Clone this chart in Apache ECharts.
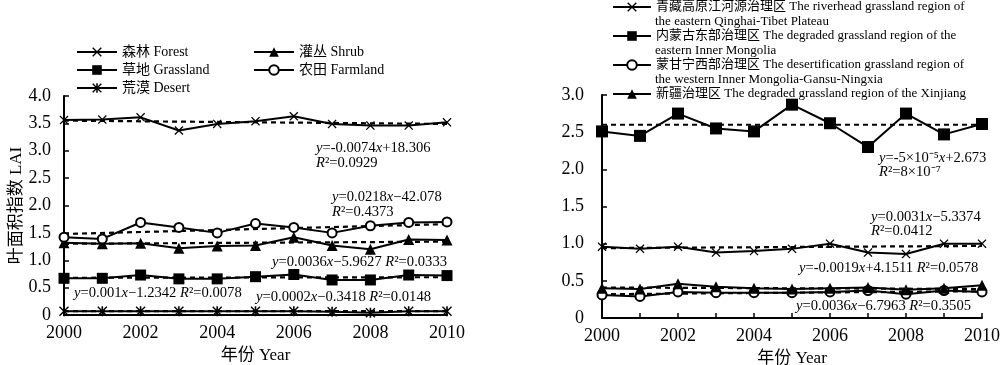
<!DOCTYPE html>
<html><head><meta charset="utf-8">
<script src="https://cdn.jsdelivr.net/npm/echarts@6/dist/echarts.min.js"></script>
<style>html,body{margin:0;padding:0;background:#fff}#c{width:1000px;height:365px}</style>
</head><body><div id="c"></div>
<script>
// ---- data ----
const years = [2000,2001,2002,2003,2004,2005,2006,2007,2008,2009,2010];
const trendYears = [2000, 2010];
// left panel: land-cover types
const forest    = [3.56,3.57,3.61,3.37,3.49,3.54,3.63,3.49,3.46,3.46,3.52];
const shrub     = [1.32,1.30,1.31,1.22,1.26,1.27,1.42,1.27,1.20,1.38,1.37];
const grassland = [0.67,0.67,0.73,0.66,0.66,0.70,0.74,0.64,0.64,0.73,0.72];
const farmland  = [1.42,1.39,1.69,1.60,1.50,1.67,1.60,1.50,1.63,1.69,1.70];
const desert    = [0.07,0.07,0.07,0.07,0.07,0.07,0.07,0.06,0.04,0.07,0.07];
const forestTrend = [3.55,3.49];
const shrubTrend = [1.30,1.34];
const grassTrend = [0.68,0.69];
const farmTrend = [1.48,1.66];
const desertTrend = [0.07,0.07];
// right panel: treatment regions
const qinghai   = [0.96,0.93,0.96,0.88,0.90,0.93,1.00,0.88,0.86,1.00,1.00];
const imEast    = [2.51,2.45,2.75,2.55,2.51,2.87,2.62,2.30,2.75,2.47,2.61];
const imWest    = [0.31,0.29,0.35,0.34,0.34,0.34,0.35,0.37,0.32,0.37,0.35];
const xinjiang  = [0.40,0.39,0.46,0.42,0.40,0.39,0.40,0.41,0.38,0.40,0.44];
const qinghaiTrend = [0.94,0.97];
const imEastTrend = [2.60,2.60];
const imWestTrend = [0.32,0.36];
const xinjiangTrend = [0.41,0.39];
const xTicks = [2000,2002,2004,2006,2008,2010];
const leftYTicks = ['0','0.5','1.0','1.5','2.0','2.5','3.0','3.5','4.0'];
const rightYTicks = ['0','0.5','1.0','1.5','2.0','2.5','3.0'];

const leftNames = ['森林 Forest','灌丛 Shrub','草地 Grassland','农田 Farmland','荒漠 Desert'];
const rightNames = ['青藏高原江河源治理区 The riverhead grassland region of',
  '内蒙古东部治理区 The degraded grassland region of the',
  '蒙甘宁西部治理区 The desertification grassland region of',
  '新疆治理区 The degraded grassland region of the Xinjiang'];
const rightNames2 = ['the eastern Qinghai-Tibet Plateau','eastern Inner Mongolia','the western Inner Mongolia-Gansu-Ningxia'];

// ---- styling ----
const FONT = '"Liberation Serif","Noto Sans CJK SC",serif';
const X_SYM = 'path://M0,1 L1,0 L5,4 L9,0 L10,1 L6,5 L10,9 L9,10 L5,6 L1,10 L0,9 L4,5 Z';
const AST_SYM = 'path://M0,1 L1,0 L5,4 L9,0 L10,1 L6,5 L10,9 L9,10 L5,6 L1,10 L0,9 L4,5 Z M4.2,0 L5.8,0 L5.8,10 L4.2,10 Z';
const pair = (xs, vs) => xs.map((x, i) => [x, vs[i]]);

function dataSeries(name, vals, sym, size, idx) {
  const s = {
    name, type: 'line', xAxisIndex: idx, yAxisIndex: idx,
    data: pair(years, vals), symbol: sym, symbolSize: size,
    lineStyle: { color: '#000', width: 2 },
    itemStyle: { color: '#000', borderColor: '#000', borderWidth: 0 },
    z: 5, animation: false
  };
  if (sym === 'emptyCircle') {
    s.itemStyle = { color: '#000', borderColor: '#000', borderWidth: 2 };
  }
  return s;
}
function trendSeries(vals, idx) {
  return {
    type: 'line', xAxisIndex: idx, yAxisIndex: idx,
    data: pair(trendYears, vals), symbol: 'none', silent: true,
    lineStyle: { color: '#000', width: 2.2, type: [5, 4] },
    z: 3, animation: false
  };
}
function xAxis(idx) {
  return {
    type: 'value', gridIndex: idx, min: 2000, max: 2010, interval: 1,
    name: '年份 Year', nameLocation: 'middle', nameGap: 31,
    nameTextStyle: { fontFamily: FONT, fontSize: 17, color: '#000' },
    axisLine: { lineStyle: { color: '#000', width: 2 } },
    axisTick: { inside: true, length: 5, lineStyle: { color: '#000', width: 1.5 } },
    axisLabel: { fontFamily: FONT, fontSize: 18, color: '#000', margin: 9,
      formatter: v => xTicks.indexOf(v) >= 0 ? String(v) : '' },
    splitLine: { show: false }
  };
}
function yAxis(idx, max, labels, withName, margin) {
  const a = {
    type: 'value', gridIndex: idx, min: 0, max, interval: 0.5,
    axisLine: { show: true, lineStyle: { color: '#000', width: 2 } },
    axisTick: { show: true, inside: true, length: 5, lineStyle: { color: '#000', width: 1.5 } },
    axisLabel: { fontFamily: FONT, fontSize: 18, color: '#000', margin,
      formatter: v => labels[Math.round(v / 0.5)] },
    splitLine: { show: false }
  };
  if (withName) {
    a.name = '叶面积指数 LAI'; a.nameLocation = 'middle'; a.nameGap = 37;
    a.nameTextStyle = { fontFamily: FONT, fontSize: 17, color: '#000' };
  }
  return a;
}
const AF = 14.6;
const rich = {
  i: { fontFamily: FONT, fontSize: AF, fontStyle: 'italic', color: '#000' },
  n: { fontFamily: FONT, fontSize: AF, color: '#000' }
};
function ann(x, y, text) {
  return { type: 'text', x, y, z: 10, silent: true,
    style: { text, rich, fontFamily: FONT, fontSize: AF, fill: '#000', verticalAlign: 'middle', align: 'left' } };
}
function plain(x, y, text, size) {
  return { type: 'text', x, y, z: 10, silent: true,
    style: { text, fontFamily: FONT, fontSize: size, fill: '#000', verticalAlign: 'middle', align: 'left' } };
}

const legendText = size => ({ fontFamily: FONT, fontSize: size, color: '#000', lineHeight: 14 });

const option = {
  backgroundColor: '#fff',
  animation: false,
  grid: [
    { left: 64, top: 96, width: 383, height: 219, outerBoundsMode: 'none', containLabel: false },
    { left: 602, top: 95, width: 380, height: 223, outerBoundsMode: 'none', containLabel: false }
  ],
  xAxis: [xAxis(0), xAxis(1)],
  yAxis: [yAxis(0, 4, leftYTicks, true, 13), yAxis(1, 3, rightYTicks, false, 18)],
  legend: [
    { data: [leftNames[0], leftNames[2], leftNames[4]], orient: 'vertical', left: 76, top: 45,
      itemWidth: 40, itemHeight: 12, itemGap: 4, textStyle: legendText(14), padding: 0 },
    { data: [leftNames[1], leftNames[3]], orient: 'vertical', left: 253, top: 45,
      itemWidth: 40, itemHeight: 12, itemGap: 4, textStyle: legendText(14), padding: 0 },
    { data: rightNames, orient: 'vertical', left: 612, top: 0,
      itemWidth: 38, itemHeight: 12, itemGap: 15, textStyle: legendText(13), padding: 0 }
  ],
  series: [
    trendSeries(forestTrend, 0), trendSeries(shrubTrend, 0), trendSeries(grassTrend, 0),
    trendSeries(farmTrend, 0), trendSeries(desertTrend, 0),
    dataSeries(leftNames[0], forest, X_SYM, 9, 0),
    dataSeries(leftNames[1], shrub, 'triangle', 11, 0),
    dataSeries(leftNames[2], grassland, 'rect', 11, 0),
    dataSeries(leftNames[3], farmland, 'emptyCircle', 9, 0),
    dataSeries(leftNames[4], desert, AST_SYM, 10, 0),
    trendSeries(qinghaiTrend, 1), trendSeries(imEastTrend, 1),
    trendSeries(imWestTrend, 1), trendSeries(xinjiangTrend, 1),
    dataSeries(rightNames[0], qinghai, X_SYM, 9, 1),
    dataSeries(rightNames[1], imEast, 'rect', 12, 1),
    dataSeries(rightNames[2], imWest, 'emptyCircle', 9, 1),
    dataSeries(rightNames[3], xinjiang, 'triangle', 11, 1)
  ],
  graphic: [
    ann(316, 148, '{i|y}{n|=-0.0074}{i|x}{n|+18.306}'),
    ann(316, 163, '{i|R}{n|²=0.0929}'),
    ann(332, 197, '{i|y}{n|=0.0218}{i|x}{n|−42.078}'),
    ann(332, 212, '{i|R}{n|²=0.4373}'),
    ann(272, 262, '{i|y}{n|=0.0036}{i|x}{n|−5.9627 }{i|R}{n|²=0.0333}'),
    ann(74, 293, '{i|y}{n|=0.001}{i|x}{n|−1.2342 }{i|R}{n|²=0.0078}'),
    ann(256, 297, '{i|y}{n|=0.0002}{i|x}{n|−0.3418 }{i|R}{n|²=0.0148}'),
    ann(879, 158, '{i|y}{n|=-5×10⁻⁵}{i|x}{n|+2.673}'),
    ann(879, 172, '{i|R}{n|²=8×10⁻⁷}'),
    ann(871, 217, '{i|y}{n|=0.0031}{i|x}{n|−5.3374}'),
    ann(871, 231, '{i|R}{n|²=0.0412}'),
    ann(799, 268, '{i|y}{n|=-0.0019}{i|x}{n|+4.1511 }{i|R}{n|²=0.0578}'),
    ann(796, 306, '{i|y}{n|=0.0036}{i|x}{n|−6.7963 }{i|R}{n|²=0.3505}'),
    plain(655, 22, rightNames2[0], 13),
    plain(655, 51, rightNames2[1], 13),
    plain(655, 80, rightNames2[2], 13)
  ]
};
const chart = echarts.init(document.getElementById('c'), null, { renderer: 'canvas' });
chart.setOption(option);
</script></body></html>
